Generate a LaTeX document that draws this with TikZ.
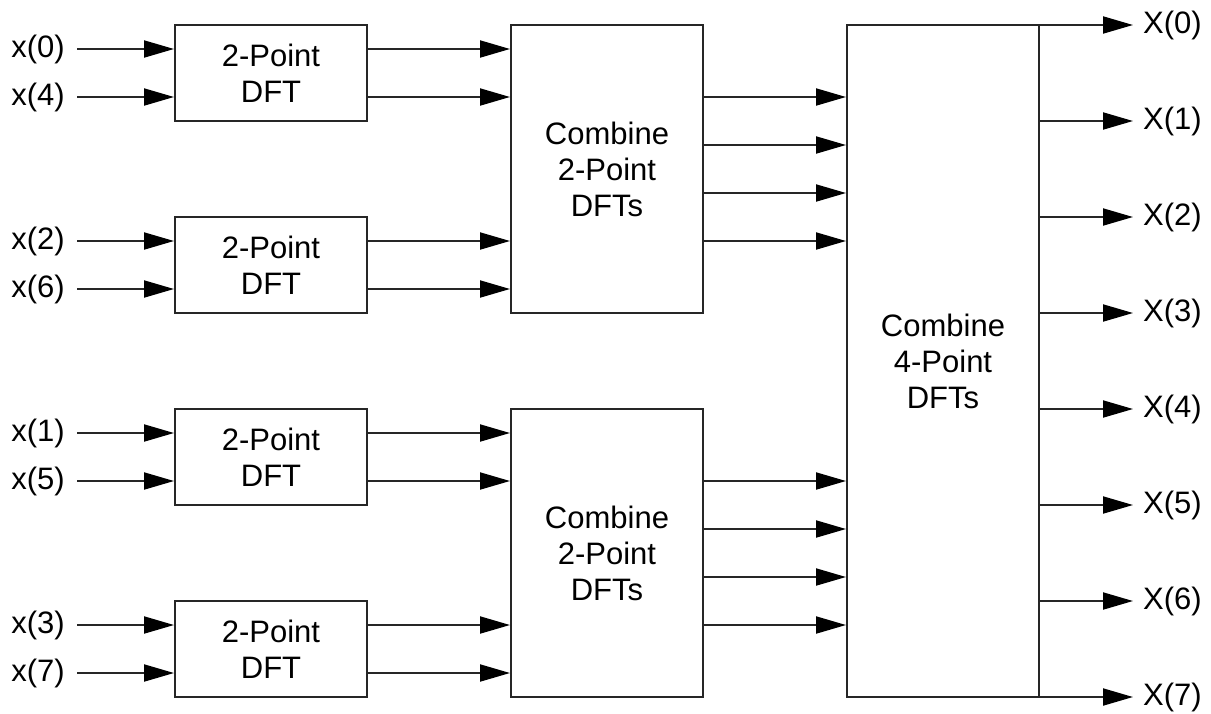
\documentclass[tikz,border=0pt]{standalone}
\usepackage{fontspec}
\setmainfont{Liberation Sans}
\usetikzlibrary{arrows.meta}
\begin{document}
\begin{tikzpicture}[x=1pt,y=-1pt,
  txt/.style={font=\fontsize{31}{36}\selectfont},
  blk/.style={txt, draw=black!85, line width=2pt, minimum width=192pt,
    align=center, inner sep=0pt},
  inlbl/.style={txt, anchor=east, inner xsep=12pt, inner ysep=0pt},
  outlbl/.style={txt, anchor=west, inner xsep=10pt, inner ysep=0pt},
  wire/.style={draw=black!85, line width=2pt,
    -{Triangle[length=30pt,width=17pt,color=black]}}]
\useasboundingbox (0,0) rectangle (1211,713);

% first stage: four 2-point DFTs
\foreach \n/\y in {1/73,2/265,3/457,4/649}
  \node[blk, minimum height=96pt] (d\n) at (271,\y) {2-Point\\DFT};

% second stage: two combiners
\node[blk, minimum height=288pt] (c1) at (607,169) {Combine\\2-Point\\DFTs};
\node[blk, minimum height=288pt] (c2) at (607,553) {Combine\\2-Point\\DFTs};

% last stage
\node[blk, minimum height=672pt] (c4) at (943,361) {Combine\\4-Point\\DFTs};

% inputs in bit-reversed order
\foreach \k/\y/\d in {0/49/1,4/97/1,2/241/2,6/289/2,1/433/3,5/481/3,3/625/4,7/673/4} {
  \node[inlbl] (x\k) at (77,\y) {x(\k)};
  \draw[wire] (x\k.east) -- (x\k.east -| d\d.west);
}

% 2-point DFTs into combiners
\foreach \k/\d/\c in {0/1/1,4/1/1,2/2/1,6/2/1,1/3/2,5/3/2,3/4/2,7/4/2}
  \draw[wire] (d\d.east |- x\k.east) -- (c\c.west |- x\k.east);

% combiners into the 4-point stage
\foreach \y/\c in {97/1,145/1,193/1,241/1,481/2,529/2,577/2,625/2}
  \draw[wire] (c\c.east |- 0,\y) -- (c4.west |- 0,\y);

% outputs
\foreach \k/\y in {0/25,1/121,2/217,3/313,4/409,5/505,6/601,7/697} {
  \node[outlbl] (X\k) at (1133,\y) {X(\k)};
  \draw[wire] (c4.east |- X\k.west) -- (X\k.west);
}
\end{tikzpicture}
\end{document}
